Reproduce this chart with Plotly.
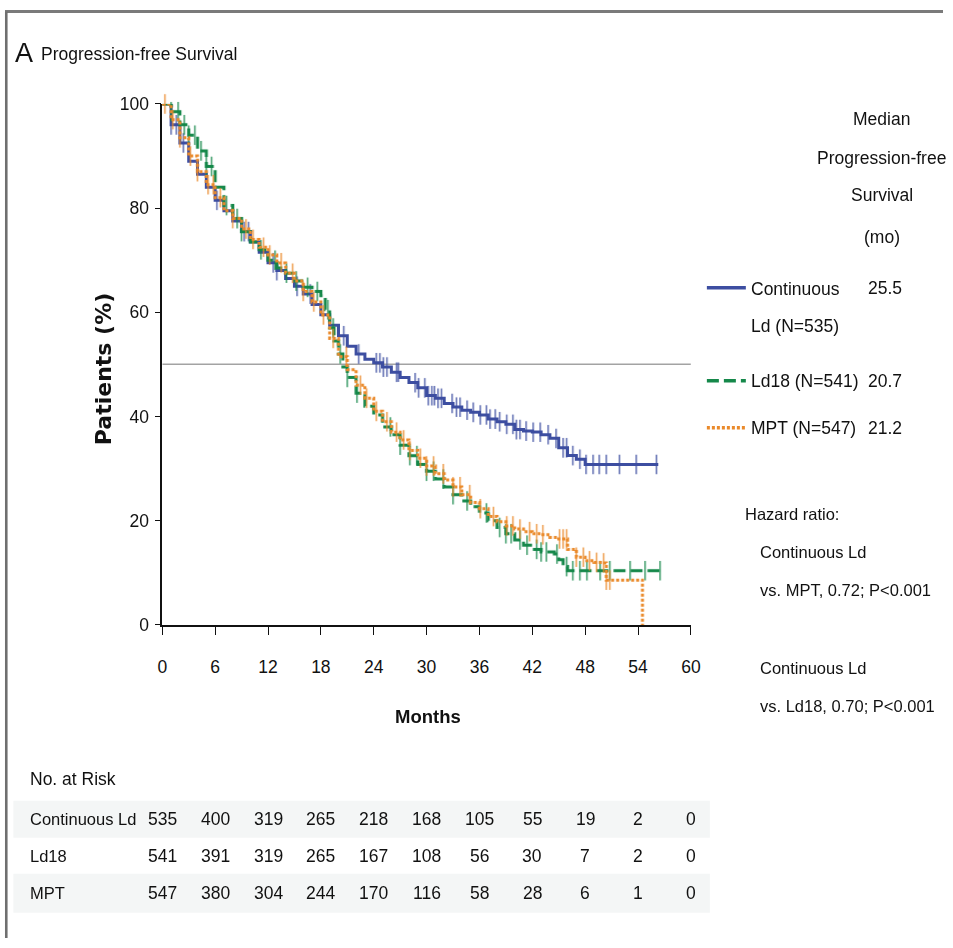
import numpy as np
import plotly.graph_objects as go

# ---------------- data ----------------
groups = ["Continuous Ld", "Ld18", "MPT"]
legend_names = ["Continuous", "Ld (N=535)", "Ld18 (N=541)", "MPT (N=547)"]
medians = ["25.5", "20.7", "21.2"]
legend_header = ["Median", "Progression-free", "Survival", "(mo)"]

cont_t = [0, 1, 2, 3, 4, 5, 6, 7, 8, 9, 10, 11, 12, 13, 14, 15, 16, 17, 18, 19, 20, 21, 22, 23, 24,
          25, 26, 27, 28, 29, 30, 31, 32, 33, 34, 35, 36, 37, 38, 39, 40, 41, 42, 43, 44, 45, 46, 47, 48, 56.3]
cont_s = [100, 96, 92.5, 89, 86.5, 84, 81.5, 79.5, 77.5, 75.5, 73.5, 71.5, 69.5, 68, 66.5, 65, 63.5, 61.5,
          59.5, 57.5, 55.5, 53.5, 52, 51, 50.3, 49.5, 48.5, 47.5, 46.5, 45.5, 44, 43.5, 42.5, 41.8, 41.2,
          40.8, 40.3, 39.5, 39, 38.5, 37.5, 37.2, 37, 36.5, 35.8, 34, 32.5, 31.8, 30.8, 30.8]
cont_cens = [1.0, 1.6, 2.4, 6.2, 9.3, 9.8, 12.6, 13.0, 15.3, 16.8, 20.6, 22.3, 24.3, 24.7, 25.1, 25.5,
             26.6, 26.8, 28.7, 29.1, 29.8, 30.2, 30.6, 30.9, 31.3, 31.7, 32.9, 33.4, 33.8, 34.6, 35.3,
             36.1, 36.8, 37.2, 37.8, 38.3, 39.1, 39.8, 40.2, 40.6, 41.3, 42.1, 42.9, 43.8, 44.7, 45.5,
             45.9, 46.6, 47.4, 48.1, 48.9, 49.6, 50.4, 51.9, 53.8, 56.1]

ld18_t = [0, 1, 2, 3, 4, 5, 6, 7, 8, 9, 10, 11, 12, 13, 14, 15, 16, 17, 18, 18.5, 19, 19.5, 20, 20.5, 21,
          22, 23, 24, 25, 26, 27, 28, 29, 30, 31, 32, 33, 34, 35, 36, 37, 38, 39, 40, 41, 42, 43, 44.5,
          45, 45.5, 46, 56.7]
ld18_s = [100, 98.5, 96, 94, 91, 88, 84, 80.5, 78, 75.5, 73.5, 72, 70, 68.5, 67.5, 66, 64.8, 64, 63.2,
          60.5, 57, 54.5, 52, 49.5, 47.5, 44.5, 42, 40.3, 38, 36.5, 34.5, 32.5, 30.8, 29.5, 28, 26.5, 25,
          23.8, 22.7, 21.5, 20, 18.7, 17.5, 16.3, 15.3, 14.5, 14.0, 13.6, 12.5, 11.2, 10.4, 10.4]
ld18_cens = [1.0, 1.8, 2.5, 3.0, 3.7, 4.4, 5.0, 5.6, 7.3, 8.5, 9.0, 11.2, 12.8, 14.1, 15.2, 16.5, 17.6,
             18.8, 19.4, 20.2, 21.0, 22.1, 25.9, 27.0, 28.1, 28.9, 30.0, 30.8, 31.9, 33.0, 34.6, 36.8,
             38.3, 39.0, 39.6, 40.6, 41.4, 42.5, 43.0, 43.6, 44.8, 45.9, 46.6, 47.4, 48.2, 49.7, 50.8,
             53.1, 54.8, 56.5]

mpt_t = [0, 1, 2, 3, 4, 5, 6, 7, 8, 9, 10, 11, 12, 13, 14, 15, 16, 17, 18, 19, 20, 21, 22, 23, 24, 25,
         26, 27, 28, 29, 30, 31, 32, 33, 34, 35, 36, 37, 38, 39, 40, 41, 42, 43, 44, 45, 46, 47, 48, 49,
         50, 50.4, 54.5, 54.5]
mpt_s = [100, 97, 93.5, 90, 87, 84.5, 82, 79.5, 78, 76, 74, 72.5, 71, 69.5, 67.5, 66, 64, 62, 59.5, 55,
         51.5, 49, 46, 43.5, 41, 39, 37, 35.5, 33.5, 32, 30.5, 29, 27.8, 26.5, 25, 23.5, 22.3, 20.8,
         19.8, 19, 18.4, 17.9, 17.5, 17.3, 16.8, 16.5, 14.5, 13, 12.3, 12.0, 11.9, 8.6, 8.6, 0]
mpt_cens = [0.3, 1.2, 2.0, 3.2, 4.0, 5.2, 5.8, 6.6, 8.0, 9.5, 10.3, 11.5, 12.2, 13.5, 14.8, 16.0, 17.2,
            18.3, 19.4, 20.9, 22.5, 23.2, 24.3, 25.5, 26.6, 27.4, 28.1, 29.3, 30.0, 30.8, 31.9, 33.0,
            33.8, 34.9, 36.1, 37.6, 39.1, 39.8, 40.6, 41.7, 42.5, 43.2, 45.1, 45.5, 45.9, 47.0, 47.8,
            48.5, 49.3, 50.1, 50.4, 50.8]

median_level = 50
month_ticks = [0, 6, 12, 18, 24, 30, 36, 42, 48, 54, 60]
y_ticks = [0, 20, 40, 60, 80, 100]
risk_cont = [535, 400, 319, 265, 218, 168, 105, 55, 19, 2, 0]
risk_ld18 = [541, 391, 319, 265, 167, 108, 56, 30, 7, 2, 0]
risk_mpt = [547, 380, 304, 244, 170, 116, 58, 28, 6, 1, 0]
hazard_lines = ["Hazard ratio:", "Continuous Ld", "vs. MPT, 0.72; P<0.001",
                "Continuous Ld", "vs. Ld18, 0.70; P<0.001"]

# ---------------- styling ----------------
W, H = 953, 948
# the photographed page shows the figure slightly scaled and offset; layout positions
# below are given in reference pixels and mapped back through that transform
AX, BX = 0.985, 4.6
AY, BY = 0.979, 9.1
FONT = "Liberation Sans, Arial, sans-serif"
BLUE, GREEN, ORANGE = "#3d4ea1", "#15884a", "#ea8a2b"
colors = [BLUE, GREEN, ORANGE]
dashes = ["solid", "12px,5px", "3px,2px"]
TXT = "#111111"


def px(x):
    return ((x - BX) / AX) / W


def py(y):
    return 1 - ((y - BY) / AY) / H


def step_at(ts, ss, c):
    i = np.searchsorted(np.asarray(ts), c, side="right") - 1
    return np.asarray(ss)[i]


fig = go.Figure()

curves = [(cont_t, cont_s, cont_cens), (ld18_t, ld18_s, ld18_cens), (mpt_t, mpt_s, mpt_cens)]
for (ts, ss, cens), col, dash, name in zip(curves, colors, dashes, groups):
    fig.add_trace(go.Scatter(
        x=ts, y=ss, mode="lines", line=dict(color=col, width=3, dash=dash, shape="hv"),
        name=name, showlegend=False, cliponaxis=False, hoverinfo="skip"))
    cy = [float(step_at(ts, ss, c)) for c in cens]
    fig.add_trace(go.Scatter(
        x=cens, y=cy, mode="markers",
        marker=dict(symbol="line-ns", size=14, line=dict(color=col, width=1.5)),
        opacity=0.85, showlegend=False, cliponaxis=False, hoverinfo="skip"))

shapes = []
# page frame: top rule and left rule
shapes.append(dict(type="line", xref="paper", yref="paper", x0=0, x1=1, y0=py(10.5), y1=py(10.5),
                   line=dict(color="#7a7a7a", width=3), layer="above"))
shapes.append(dict(type="line", xref="paper", yref="paper", x0=1.3 / W, x1=1.3 / W, y0=py(10.5), y1=0,
                   line=dict(color="#6f6f6f", width=2.6), layer="above"))
# median reference line
shapes.append(dict(type="line", xref="x", yref="y", x0=month_ticks[0], x1=month_ticks[-1],
                   y0=median_level, y1=median_level, line=dict(color="#a3a3a3", width=1.5), layer="below"))
# risk table shaded rows
for y0, y1 in [(800, 837), (873, 912)]:
    shapes.append(dict(type="rect", xref="paper", yref="paper", x0=px(13), x1=px(710),
                       y0=py(y1), y1=py(y0), fillcolor="#f4f6f6", line=dict(width=0), layer="below"))
# legend samples
leg_y = [287, 380, 427]
for col, dash, yy in zip(colors, dashes, leg_y):
    shapes.append(dict(type="line", xref="paper", yref="paper", x0=px(707), x1=px(746),
                       y0=py(yy), y1=py(yy), line=dict(color=col, width=3.5, dash=dash)))

ann = []


def text(x, y, s, size=17, xanchor="left", yanchor="middle", color=TXT, family=FONT,
         xref="paper", align="left", **kw):
    ann.append(dict(x=x if xref != "paper" else px(x), y=py(y), xref=xref, yref="paper", text=s,
                    showarrow=False, xanchor=xanchor, yanchor=yanchor, align=align,
                    font=dict(size=size, color=color, family=family), **kw))


# title
text(13, 52, "A", size=27)
text(39, 53, "Progression-free Survival", size=17.5)
# y-axis title
ann.append(dict(x=px(104), y=py(368), xref="paper", yref="paper", text="<b>Patients (%)</b>",
                showarrow=False, textangle=-90, xanchor="center", yanchor="middle",
                font=dict(size=22, color=TXT, family="DejaVu Sans, sans-serif")))
# x-axis title
text(428, 716, "<b>Months</b>", size=18.5, xanchor="center")
# legend header
for s, yy in zip(legend_header, [118, 157, 194, 236]):
    text(882, yy, s, size=17.5, xanchor="center")
# legend labels
for s, yy in zip(legend_names, [288, 325, 380, 427]):
    text(749, yy, s, size=17.5)
for m, yy in zip(medians, leg_y):
    text(866, yy, m, size=17.5)
# hazard ratios
for s, x, y in zip(hazard_lines, [743, 758, 758, 758, 758], [513, 551, 589, 667, 705]):
    text(x, y, s, size=16.5)
# risk table
text(28, 778, "No. at Risk", size=17.5)
for lab, row, yy in zip(groups, [risk_cont, risk_ld18, risk_mpt], [818, 855, 892]):
    text(28, yy, lab, size=16.5)
    for m, v in zip(month_ticks, row):
        text(m, yy, str(v), size=17.5, xanchor="center", xref="x")

fig.update_layout(
    width=W, height=H, margin=dict(l=0, r=0, t=0, b=0),
    paper_bgcolor="white", plot_bgcolor="white",
    shapes=shapes, annotations=ann,
    xaxis=dict(domain=[px(162), px(691)], range=[0, 60], tickvals=month_ticks, ticks="outside",
               ticklen=8, tickwidth=1.3, tickcolor=TXT, showline=True, linecolor=TXT,
               linewidth=1.5, showgrid=False, zeroline=False, ticklabelstandoff=17,
               tickfont=dict(size=17.5, family=FONT, color=TXT), fixedrange=True),
    yaxis=dict(domain=[py(624), py(103)], range=[0, 100], tickvals=y_ticks, ticks="outside",
               ticklen=6, tickwidth=1.3, tickcolor=TXT, showline=True, linecolor=TXT,
               linewidth=1.5, showgrid=False, zeroline=False, ticklabelstandoff=2,
               tickfont=dict(size=17.5, family=FONT, color=TXT), fixedrange=True),
    showlegend=False,
)

fig.write_html("out.html")
